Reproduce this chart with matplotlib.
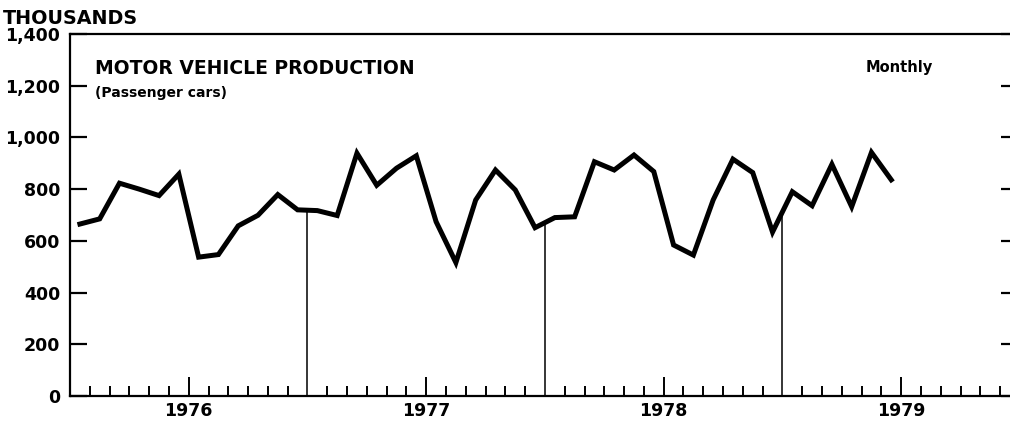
import numpy as np
import matplotlib
matplotlib.use("Agg")
import matplotlib.pyplot as plt

# monthly passenger car production, thousands (Jan 1976 - Jun 1979)
cars_1976 = [665, 685, 823, 800, 775, 858, 537, 547, 658, 699, 779, 720]
cars_1977 = [717, 698, 939, 815, 881, 929, 674, 516, 758, 874, 797, 651]
cars_1978 = [690, 693, 906, 874, 932, 868, 584, 545, 758, 916, 864, 634]
cars_1979 = [790, 736, 896, 732, 942, 836]
years = ["1976", "1977", "1978", "1979"]
yticks = [0, 200, 400, 600, 800, 1000, 1200, 1400]

values = cars_1976 + cars_1977 + cars_1978 + cars_1979
months = np.arange(len(values)) + 0.5  # plotted mid-month

W, H = 1010, 421
fig = plt.figure(figsize=(W / 100, H / 100), dpi=100)
ax = fig.add_axes([70 / W, 25 / H, 1 - 70 / W, (396 - 34) / H])

font = "DejaVu Sans"

ax.plot(months, values, color="black", lw=3.6, solid_joinstyle="miter", zorder=3)

# year boundaries drawn up to the series
for b in [12, 24, 36]:
    top = np.interp(b, months, values)
    ax.plot([b, b], [0, top], color="black", lw=1.1)

ax.set_xlim(0, 47.5)
ax.set_ylim(0, 1400)

for s in ["left", "top", "bottom"]:
    ax.spines[s].set_linewidth(1.6)
ax.spines["right"].set_visible(False)

ax.set_yticks(yticks)
ax.set_yticklabels([f"{v:,}" for v in yticks], fontsize=12.5, fontweight="bold", family=font)
ax.tick_params(axis="y", direction="in", length=12, width=1.6, pad=7, right=True)
for t in ax.yaxis.get_major_ticks():
    t.tick2line.set_markersize(6.5)

minor = [m for m in range(1, 48) if m % 12 not in (0, 6)]
ax.set_xticks(minor, minor=True)
ax.set_xticks([6, 18, 30, 42])
ax.set_xticklabels(years, fontsize=12.5, fontweight="bold", family=font)
ax.tick_params(axis="x", which="major", direction="in", length=14, width=1.4, pad=4)
ax.tick_params(axis="x", which="minor", direction="in", length=7, width=1.4)

fig.text(3 / W, 1 - 24 / H, "THOUSANDS", fontsize=13.8, fontweight="bold", family=font)
fig.text(95 / W, 1 - 74 / H, "MOTOR VEHICLE PRODUCTION", fontsize=13.5,
         fontweight="heavy", family=font)
fig.text(95 / W, 1 - 97 / H, "(Passenger cars)", fontsize=10, fontweight="bold", family=font)
fig.text(866 / W, 1 - 72 / H, "Monthly", fontsize=10.5, fontweight="bold", family=font)

fig.savefig("out.png", dpi=100)
